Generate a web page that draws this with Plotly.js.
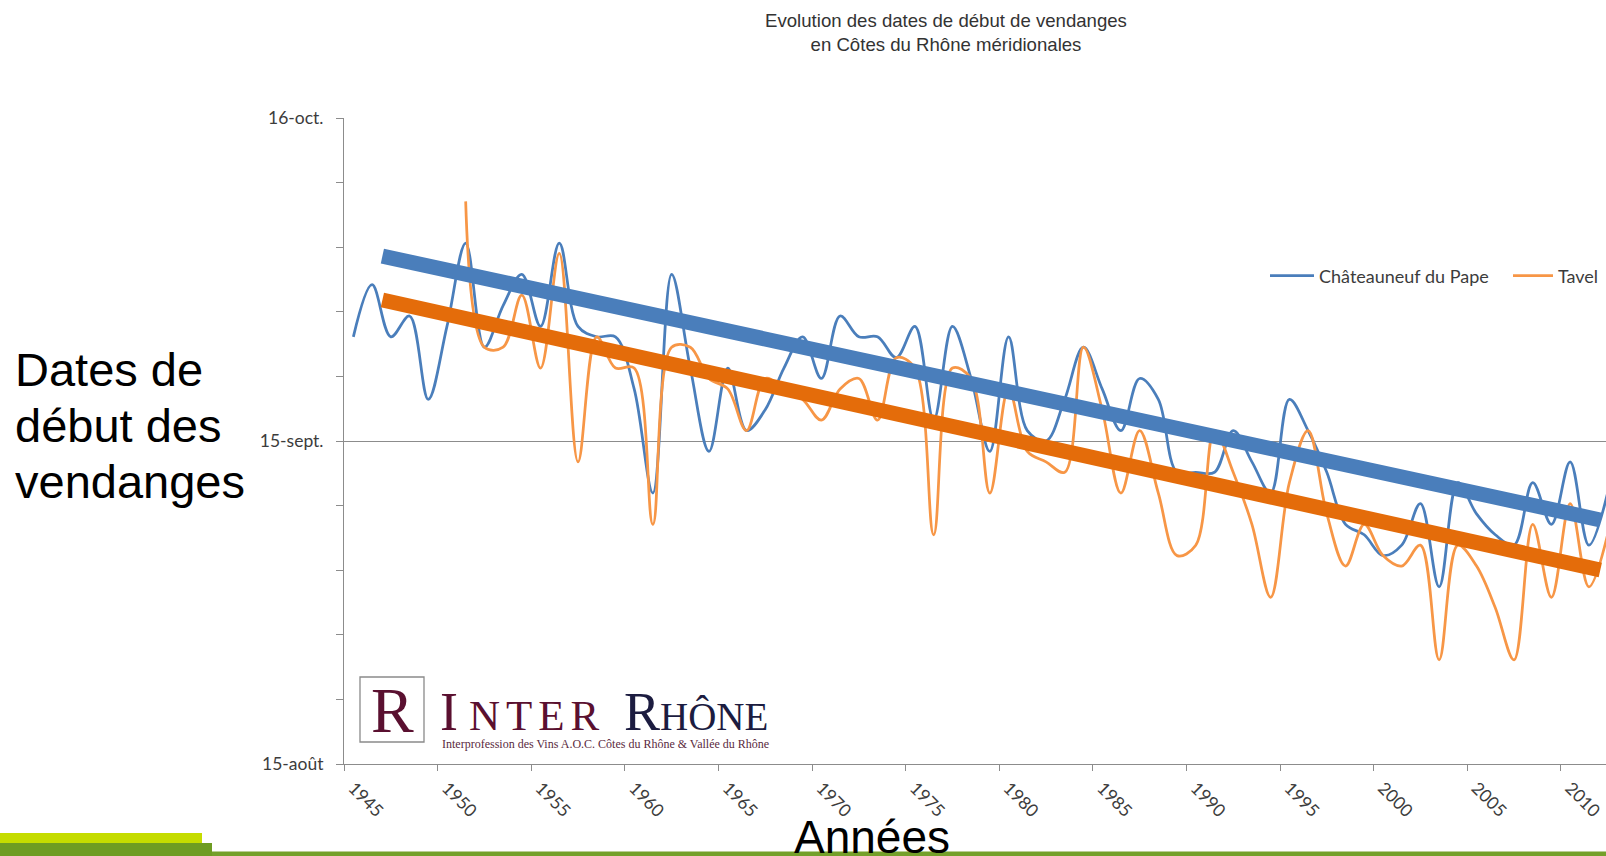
<!DOCTYPE html>
<html>
<head>
<meta charset="utf-8">
<script src="https://cdn.plot.ly/plotly-3.0.1.min.js"></script>
<style>
  html, body { margin: 0; padding: 0; background: #ffffff; }
  #chart { width: 1606px; height: 856px; }
</style>
</head>
<body>
<div id="chart"></div>
<script>
// ---------- DATA (day of September; >30 = October, <=0 = August) ----------
const annees = [1945,1946,1947,1948,1949,1950,1951,1952,1953,1954,1955,1956,1957,1958,1959,
  1960,1961,1962,1963,1964,1965,1966,1967,1968,1969,1970,1971,1972,1973,1974,1975,1976,1977,
  1978,1979,1980,1981,1982,1983,1984,1985,1986,1987,1988,1989,1990,1991,1992,1993,1994,1995,
  1996,1997,1998,1999,2000,2001,2002,2003,2004,2005,2006,2007,2008,2009,2010,2011,2012];

const chateauneufDuPape = [25,30,25,27,19,26,34,24,28,31,26,34,26,25,25,
  20,10,31,22,14,22,16,18,22,25,21,27,25,25,23,26,17,26,
  21,14,25,16,15,19,24,20,16,21,19,12,12,12,16,13,10,19,
  16,12,7,6,4,5,9,1,11,8,6,5,11,7,13,5,10];

const tavel = [null,null,null,null,null,null,38,24,24,29,22,33,13,25,22,
  22,7,24,24,21,20,16,21,20,19,17,20,21,17,23,22,6,22,
  21,10,20,14,13,12,24,18,10,16,10,4,5,16,12,7,0,11,
  16,8,3,7,4,3,5,-6,5,3,-1,-6,7,0,9,1,6];

// hand-drawn trend lines (start / end)
const anneesTendance = [1946.55, 2011.61];
const tendanceChateauneuf = [32.75, 7.42];
const tendanceTavel = [28.53, 2.62];

const ticksAnnees = [1945,1950,1955,1960,1965,1970,1975,1980,1985,1990,1995,2000,2005,2010];
const labelsAnnees = ['1945','1950','1955','1960','1965','1970','1975','1980','1985','1990','1995','2000','2005','2010'];
const ticksDates = ['2000-08-15','2000-09-15','2000-10-16'];
const labelsDates = ['15-août','15-sept.','16-oct.'];

// ---------- helpers ----------
const DAY = 86400000;
function jourVersDate(j) {
  if (j === null) return null;
  const ms = Date.UTC(2000, 7, 31) + j * DAY;
  return new Date(ms).toISOString().replace('T', ' ').replace('Z', '');
}
const L = 344, T = 118, W = 1262, H = 646;
const px = x => (x - L) / W;
const py = y => (T + H - y) / H;

const blue = '#4a7ebb', orange = '#f79646', orangeDark = '#e46c0a';
const grey = '#8c8c8c', txt = '#3c3c3c';

const traces = [
  { x: annees, y: chateauneufDuPape.map(jourVersDate), type: 'scatter', mode: 'lines',
    name: 'Châteauneuf du Pape', legend: 'legend',
    line: { color: blue, width: 2.75, shape: 'spline', smoothing: 1 }, connectgaps: false },
  { x: annees, y: tavel.map(jourVersDate), type: 'scatter', mode: 'lines',
    name: 'Tavel', legend: 'legend2',
    line: { color: orange, width: 2.75, shape: 'spline', smoothing: 1 }, connectgaps: false },
  { x: anneesTendance, y: tendanceChateauneuf.map(jourVersDate), type: 'scatter', mode: 'lines',
    yaxis: 'y2', showlegend: false, hoverinfo: 'skip', line: { color: blue, width: 15 } },
  { x: anneesTendance, y: tendanceTavel.map(jourVersDate), type: 'scatter', mode: 'lines',
    yaxis: 'y2', showlegend: false, hoverinfo: 'skip', line: { color: orangeDark, width: 15 } }
];

const yRange = ['2000-08-15', '2000-10-16'];
const sansBig = '"Liberation Sans", Arial, sans-serif';
const serif = '"Liberation Serif", serif';

const layout = {
  width: 1606, height: 856,
  margin: { l: L, r: 0, t: T, b: 856 - T - H, pad: 0 },
  paper_bgcolor: '#ffffff', plot_bgcolor: '#ffffff',
  font: { family: 'Lato, "Open Sans", sans-serif', color: txt },
  title: {
    text: 'Evolution des dates de début de vendanges<br>en Côtes du Rhône méridionales',
    xref: 'container', x: 946 / 1606, xanchor: 'center',
    yref: 'container', y: 1 - 27 / 856, yanchor: 'middle',
    font: { family: sansBig, size: 18.6, color: '#333333' }
  },
  xaxis: {
    range: [1944.5, 1944.5 + W / 18.72],
    tickmode: 'array', tickvals: ticksAnnees, ticktext: labelsAnnees,
    ticks: '', tickangle: 45, ticklabelstandoff: 6,
    tickfont: { family: 'Lato', size: 17.5, color: txt },
    showline: true, linecolor: grey, linewidth: 1,
    showgrid: false, zeroline: false, fixedrange: true,
    minor: { tickvals: ticksAnnees.map(v => v - 0.5), ticks: 'outside', ticklen: 6,
             tickcolor: grey, tickwidth: 1, showgrid: false }
  },
  yaxis: {
    type: 'date', range: yRange,
    tickmode: 'array', tickvals: ticksDates, ticktext: labelsDates,
    ticks: 'outside', ticklen: 7, tickcolor: grey, tickwidth: 1,
    ticklabelstandoff: 9,
    tickfont: { family: 'Lato', size: 17.5, color: txt },
    showline: true, linecolor: grey, linewidth: 1,
    showgrid: true, gridcolor: '#d9d9d9', gridwidth: 1,
    zeroline: false, fixedrange: true,
    minor: { tick0: '2000-08-15', dtick: 6.2 * DAY, ticks: 'outside', ticklen: 7,
             tickcolor: grey, tickwidth: 1, showgrid: false }
  },
  yaxis2: {
    type: 'date', range: yRange, overlaying: 'y', side: 'left',
    tickmode: 'array', tickvals: ['2000-09-15'], showticklabels: false, ticks: '',
    showgrid: true, gridcolor: grey, gridwidth: 1, showline: false, zeroline: false,
    fixedrange: true
  },
  legend: {
    x: px(1265), xanchor: 'left', y: py(276), yanchor: 'middle',
    orientation: 'h', bgcolor: 'rgba(0,0,0,0)', itemwidth: 44,
    font: { family: 'Lato', size: 18, color: txt }
  },
  legend2: {
    x: px(1508), xanchor: 'left', y: py(276), yanchor: 'middle',
    orientation: 'h', bgcolor: 'rgba(0,0,0,0)', itemwidth: 40,
    font: { family: 'Lato', size: 18, color: txt }
  },
  shapes: [
    // logo frame
    { type: 'rect', xref: 'paper', yref: 'paper', x0: px(360), x1: px(424), y0: py(742), y1: py(677),
      line: { color: '#8a8a8a', width: 1.3 }, fillcolor: '#ffffff', layer: 'above' },
    // bottom decoration bars
    { type: 'rect', xref: 'paper', yref: 'paper', x0: px(0), x1: px(202), y0: py(843), y1: py(833),
      line: { width: 0 }, fillcolor: '#c5dc00', layer: 'above' },
    { type: 'rect', xref: 'paper', yref: 'paper', x0: px(0), x1: px(212), y0: py(858), y1: py(843),
      line: { width: 0 }, fillcolor: '#6e9c22', layer: 'above' },
    { type: 'rect', xref: 'paper', yref: 'paper', x0: px(212), x1: px(1606), y0: py(858), y1: py(851.5),
      line: { width: 0 }, fillcolor: '#74a02a', layer: 'above' }
  ],
  annotations: [
    // y axis title, one line each
    { text: 'Dates de', xref: 'paper', yref: 'paper',
      x: px(13), xanchor: 'left', y: py(369), yanchor: 'middle', align: 'left', showarrow: false,
      font: { family: sansBig, size: 47, color: '#000000' } },
    { text: 'début des', xref: 'paper', yref: 'paper',
      x: px(13), xanchor: 'left', y: py(425), yanchor: 'middle', align: 'left', showarrow: false,
      font: { family: sansBig, size: 47, color: '#000000' } },
    { text: 'vendanges', xref: 'paper', yref: 'paper',
      x: px(13), xanchor: 'left', y: py(481), yanchor: 'middle', align: 'left', showarrow: false,
      font: { family: sansBig, size: 47, color: '#000000' } },
    // x axis title
    { text: 'Années', xref: 'paper', yref: 'paper',
      x: px(872), xanchor: 'center', y: py(837), yanchor: 'middle', showarrow: false,
      font: { family: sansBig, size: 46, color: '#000000' } },
    // logo
    { text: 'R', xref: 'paper', yref: 'paper', x: px(392), xanchor: 'center', y: py(710), yanchor: 'middle',
      showarrow: false, font: { family: serif, size: 64, color: '#5a1030' } },
    { text: '<span style="font-size:54px;letter-spacing:11px">I</span><span style="letter-spacing:6px">NTER</span>',
      xref: 'paper', yref: 'paper', x: px(438), xanchor: 'left', y: py(712), yanchor: 'middle',
      showarrow: false, font: { family: serif, size: 43, color: '#5a1030' } },
    { text: '<span style="font-size:54px">R</span>HÔNE',
      xref: 'paper', yref: 'paper', x: px(622), xanchor: 'left', y: py(712), yanchor: 'middle',
      showarrow: false, font: { family: serif, size: 39, color: '#1c1c40' } },
    { text: 'Interprofession des Vins A.O.C. Côtes du Rhône &amp; Vallée du Rhône',
      xref: 'paper', yref: 'paper', x: px(440), xanchor: 'left', y: py(744), yanchor: 'middle',
      showarrow: false, font: { family: serif, size: 12, color: '#5a2a40' } }
  ],
  showlegend: true
};

Plotly.newPlot('chart', traces, layout, { displayModeBar: false, staticPlot: true });
</script>
</body>
</html>
